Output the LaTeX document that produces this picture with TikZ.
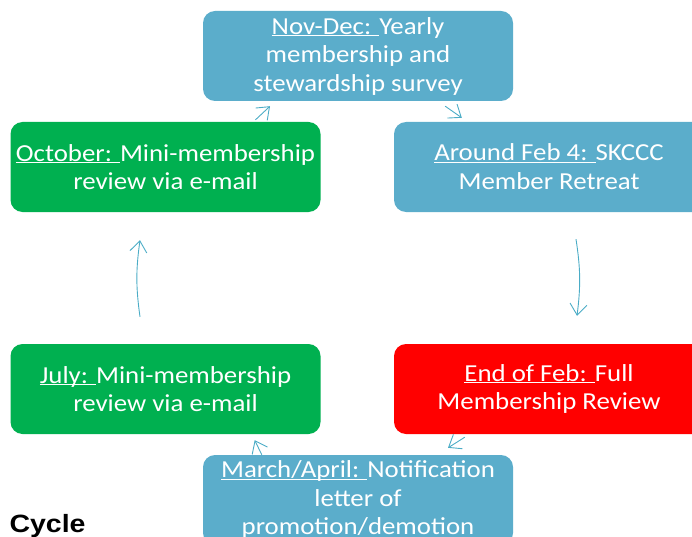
\documentclass[tikz,border=0pt]{standalone}
\usepackage{fontspec}
\setmainfont[FakeStretch=1.10]{Carlito}
\newfontfamily\cyclefont[FakeStretch=1.14]{Liberation Sans}
\usetikzlibrary{arrows.meta,positioning}
\definecolor{stepblue}{RGB}{91,173,203}
\definecolor{stepgreen}{RGB}{0,176,80}
\definecolor{stepred}{RGB}{255,0,0}
\definecolor{flowblue}{RGB}{75,172,198}
\newcommand{\ulin}[1]{\underline{\smash{#1}}}
\tikzset{
  stepbox/.style={rounded corners=12pt, minimum width=310pt, minimum height=90pt,
    inner sep=0pt, align=center, text=white,
    font=\fontsize{24.4}{28.5}\selectfont},
  flow/.style={draw=flowblue, line width=0.9pt,
    -{Straight Barb[length=11pt,width=17pt,line width=0.9pt]}}
}

\begin{document}
\begin{tikzpicture}[x=1pt,y=-1pt]
  \useasboundingbox (0,0) rectangle (692,537);
  \clip (0,0) rectangle (692,537);

  \node [stepbox, fill=stepblue] (nov) at (358,56) {\ulin{Nov-Dec: }Yearly\\membership and\\stewardship survey};
  \node [stepbox, fill=stepblue] (ret) at (549,167) {\ulin{Around Feb 4: }SKCCC\\Member Retreat};
  \node [stepbox, fill=stepred] (full) at (549,389) {\ulin{End of Feb: }Full\\Membership Review};
  \node [stepbox, fill=stepblue] (notif) at (358,500) {\ulin{March/April: }Notification\\letter of\\promotion/demotion};
  \node [stepbox, fill=stepgreen] (jul) at (165.5,389) {\ulin{July: }Mini-membership\\review via e-mail};
  \node [stepbox, fill=stepgreen] (oct) at (165.5,167) {\ulin{October: }Mini-membership\\review via e-mail};

  \node [anchor=base west, font=\cyclefont\bfseries\fontsize{25}{30}\selectfont] (cyc) at (6,532) {Cycle};

  \draw [flow] ([xshift=90pt,yshift=2pt]oct.north) -- ([xshift=-88pt,yshift=-5pt]nov.south);
  \draw [flow] ([xshift=-68pt,yshift=-5pt]nov.south east) -- ([xshift=68pt,yshift=4pt]ret.north west);
  \draw [flow] ([xshift=27pt,yshift=-27pt]ret.south) to[bend left=8] ([xshift=28pt,yshift=28pt]full.north);
  \draw [flow] ([xshift=71pt,yshift=-3pt]full.south west) -- ([xshift=90pt,yshift=7pt]notif.north);
  \draw [flow] ([xshift=59pt]notif.north west) -- ([xshift=-66pt,yshift=-6pt]jul.south east);
  \draw [flow] ([xshift=-25.5pt,yshift=27pt]jul.north) to[bend left=8] ([xshift=-25.5pt,yshift=-28pt]oct.south);
\end{tikzpicture}
\end{document}
